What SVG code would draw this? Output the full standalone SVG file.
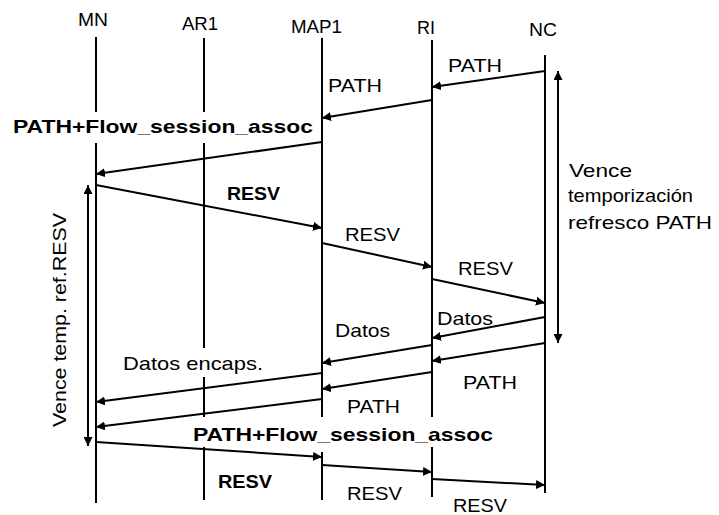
<svg xmlns="http://www.w3.org/2000/svg" width="719" height="515" viewBox="0 0 719 515">
<defs>
<style>
.t{font-family:"Liberation Sans",Arial,sans-serif;font-size:19px;fill:#000}
.b{font-weight:bold}
.ll{stroke:#000;stroke-width:2;fill:none}
.msg{stroke:#000;stroke-width:2;fill:none;marker-end:url(#ah)}
.tm{stroke:#000;stroke-width:2;fill:none;marker-end:url(#ah);marker-start:url(#ahs)}
</style>
<marker id="ah" markerUnits="userSpaceOnUse" markerWidth="9" markerHeight="9" refX="9" refY="4.5" orient="auto"><path d="M0,0 L9,4.5 L0,9 z" fill="#000"/></marker>
<marker id="ahs" markerUnits="userSpaceOnUse" markerWidth="9" markerHeight="9" refX="9" refY="4.5" orient="auto-start-reverse"><path d="M0,0 L9,4.5 L0,9 z" fill="#000"/></marker>
</defs>
<rect width="719" height="515" fill="#fff"/>
<g id="MN">
<text class="t" x="78" y="26" textLength="30" lengthAdjust="spacingAndGlyphs">MN</text>
<path class="ll" d="M96,37V112M96,143V503"/>
</g>
<g id="AR1">
<text class="t" x="182" y="30" textLength="36" lengthAdjust="spacingAndGlyphs">AR1</text>
<path class="ll" d="M204,38V112M204,143V348M204,377V417M204,447V500"/>
</g>
<g id="MAP1">
<text class="t" x="291" y="33" textLength="51" lengthAdjust="spacingAndGlyphs">MAP1</text>
<path class="ll" d="M322,38V417M322,452V500"/>
</g>
<g id="RI">
<text class="t" x="417" y="34" textLength="18" lengthAdjust="spacingAndGlyphs">RI</text>
<path class="ll" d="M432,40V417M432,447V497"/>
</g>
<g id="NC">
<text class="t" x="529" y="36" textLength="28" lengthAdjust="spacingAndGlyphs">NC</text>
<path class="ll" d="M545,55V493"/>
</g>
<g id="connectors">
<line class="msg" x1="545" y1="71" x2="432" y2="87"/>
<line class="msg" x1="432" y1="100" x2="322" y2="118"/>
<line class="msg" x1="322" y1="142" x2="96" y2="174"/>
<line class="msg" x1="96" y1="185" x2="322" y2="228"/>
<line class="msg" x1="322" y1="243" x2="432" y2="267"/>
<line class="msg" x1="432" y1="279" x2="545" y2="303"/>
<line class="msg" x1="545" y1="317" x2="432" y2="338"/>
<line class="msg" x1="432" y1="345" x2="322" y2="363"/>
<line class="msg" x1="545" y1="343" x2="432" y2="361"/>
<line class="msg" x1="322" y1="373" x2="96" y2="402"/>
<line class="msg" x1="432" y1="372" x2="322" y2="389"/>
<line class="msg" x1="322" y1="399" x2="96" y2="427"/>
<line class="msg" x1="96" y1="442" x2="322" y2="457"/>
<line class="msg" x1="322" y1="465" x2="432" y2="472"/>
<line class="msg" x1="432" y1="479" x2="545" y2="485"/>
<line class="tm" x1="558" y1="343" x2="558" y2="71"/>
<line class="tm" x1="88" y1="446" x2="88" y2="185"/>
</g>
<g id="labels">
<text class="t" x="448" y="72" textLength="54" lengthAdjust="spacingAndGlyphs">PATH</text>
<text class="t" x="328" y="92" textLength="54" lengthAdjust="spacingAndGlyphs">PATH</text>
<text class="t b" x="13" y="133" textLength="300" lengthAdjust="spacingAndGlyphs">PATH+Flow_session_assoc</text>
<text class="t b" x="227" y="200" textLength="53" lengthAdjust="spacingAndGlyphs">RESV</text>
<text class="t" x="345" y="241" textLength="55" lengthAdjust="spacingAndGlyphs">RESV</text>
<text class="t" x="458" y="275" textLength="55" lengthAdjust="spacingAndGlyphs">RESV</text>
<text class="t" x="437" y="325" textLength="56" lengthAdjust="spacingAndGlyphs">Datos</text>
<text class="t" x="335" y="337" textLength="55" lengthAdjust="spacingAndGlyphs">Datos</text>
<text class="t" x="123" y="370" textLength="140" lengthAdjust="spacingAndGlyphs">Datos encaps.</text>
<text class="t" x="463" y="389" textLength="54" lengthAdjust="spacingAndGlyphs">PATH</text>
<text class="t" x="347" y="413" textLength="53" lengthAdjust="spacingAndGlyphs">PATH</text>
<text class="t b" x="193" y="441" textLength="300" lengthAdjust="spacingAndGlyphs">PATH+Flow_session_assoc</text>
<text class="t b" x="218" y="488" textLength="54" lengthAdjust="spacingAndGlyphs">RESV</text>
<text class="t" x="347" y="500" textLength="55" lengthAdjust="spacingAndGlyphs">RESV</text>
<text class="t" x="453" y="512" textLength="54" lengthAdjust="spacingAndGlyphs">RESV</text>
<text class="t" x="569" y="177" textLength="63" lengthAdjust="spacingAndGlyphs">Vence</text>
<text class="t" x="568" y="202" textLength="125" lengthAdjust="spacingAndGlyphs">temporización</text>
<text class="t" x="568" y="229" textLength="144" lengthAdjust="spacingAndGlyphs">refresco PATH</text>
<text class="t" transform="translate(66,427) rotate(-90)" x="0" y="0" textLength="214" lengthAdjust="spacingAndGlyphs">Vence temp. ref.RESV</text>
</g>
</svg>
